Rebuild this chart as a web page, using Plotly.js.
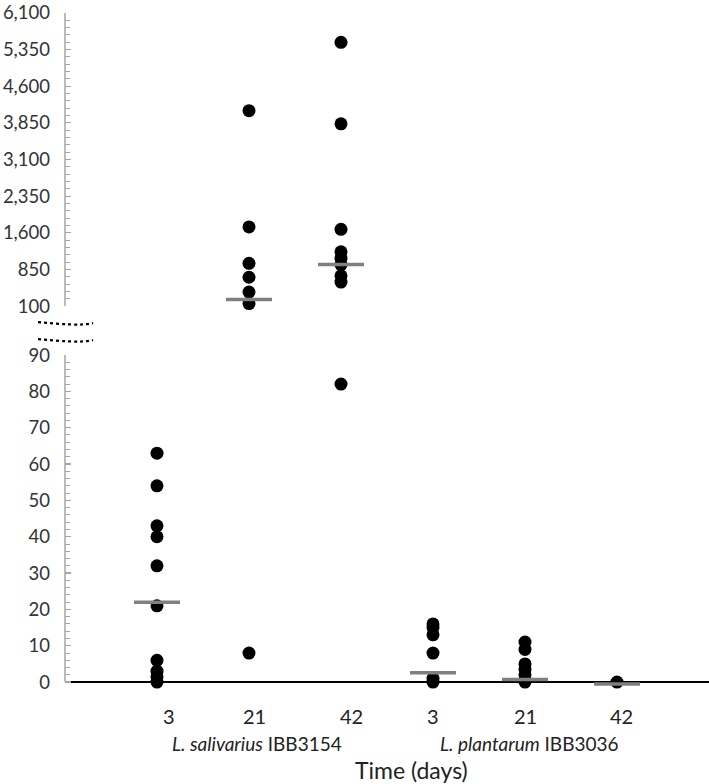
<!DOCTYPE html>
<html>
<head>
<meta charset="utf-8">
<script src="https://cdn.plot.ly/plotly-3.0.1.min.js"></script>
<style>html,body{margin:0;padding:0;background:#fff;}#chart{width:709px;height:784px;}</style>
</head>
<body>
<div id="chart"></div>
<script>
// ---- data ----
const dayLabels = ['3', '21', '42', '3', '21', '42'];
const strainNames = ['L. salivarius', 'L. plantarum'];
const strainCodes = ['IBB3154', 'IBB3036'];
const salivarius3 = [63, 54, 43, 40, 32, 21, 6, 3, 1.5, 0];
const salivarius21 = [4100, 1720, 975, 690, 385, 150, 8];
const salivarius42 = [5500, 3830, 1670, 1210, 1080, 950, 720, 590, 82];
const plantarum3 = [16, 15, 13, 8, 1, 0];
const plantarum21 = [11, 9, 5, 3.5, 2, 0.5, 0];
const plantarum42 = [0];
const medians = [22, 236, 950, 2.6, 0.7, -0.5];
const lowerTicks = [0, 10, 20, 30, 40, 50, 60, 70, 80, 90];
const upperTicks = [100, 850, 1600, 2350, 3100, 3850, 4600, 5350, 6100];
const breakValue = 95;

// ---- layout geometry ----
const W = 709, H = 784;
const zeroPx = 682;                 // pixel row of value 0
const lowPad = 1.9;                 // extra value room below 0
const lowScale = (zeroPx - 355) / 90;
const bottomPx = zeroPx + lowPad * lowScale;
const M = {l: 65, r: 0, t: 13, b: H - bottomPx};
const plotH = H - M.t - M.b, plotW = W - M.l - M.r;
const lowerDomain = [0, (bottomPx - 355) / plotH];
const upperDomain = [(bottomPx - 306) / plotH, 1];
const pxX = x => (x - M.l) / plotW;
const pxY = y => (bottomPx - y) / plotH;

const groups = [salivarius3, salivarius21, salivarius42, plantarum3, plantarum21, plantarum42];
const lowX = [], lowY = [], upX = [], upY = [];
groups.forEach((vals, i) => {
  vals.forEach(v => {
    if (v < breakValue) { lowX.push(i + 1); lowY.push(v); }
    else { upX.push(i + 1); upY.push(v); }
  });
});
const medLowX = [], medLowY = [], medUpX = [], medUpY = [];
const half = 0.25;
medians.forEach((m, i) => {
  const xs = [i + 1 - half, i + 1 + half, null];
  const ys = [m, m, null];
  if (m < breakValue) { medLowX.push(...xs); medLowY.push(...ys); }
  else { medUpX.push(...xs); medUpY.push(...ys); }
});

const dot = {color: '#000', size: 13};
const medLine = {color: '#808080', width: 3.5};
const traces = [
  {x: lowX, y: lowY, xaxis: 'x', yaxis: 'y', mode: 'markers', marker: dot, hoverinfo: 'y', cliponaxis: false},
  {x: upX, y: upY, xaxis: 'x', yaxis: 'y2', mode: 'markers', marker: dot, hoverinfo: 'y', cliponaxis: false},
  {x: medLowX, y: medLowY, xaxis: 'x', yaxis: 'y', mode: 'lines', line: medLine, hoverinfo: 'skip', cliponaxis: false},
  {x: medUpX, y: medUpY, xaxis: 'x', yaxis: 'y2', mode: 'lines', line: medLine, hoverinfo: 'skip', cliponaxis: false}
];

const fontFam = 'Lato, "Open Sans", sans-serif';
const tickFont = {family: fontFam, size: 18.5, color: '#333'};
const axisGray = '#a6a6a6';
const yCommon = {
  showgrid: false, showline: false,
  ticks: 'inside', ticklen: 6, tickwidth: 1.2, tickcolor: axisGray,
  tickfont: tickFont, ticklabelstandoff: 14, ticklabeloverflow: 'allow', anchor: 'x', fixedrange: true
};

const labelShift = [12, 5, 10, 0, 0, 4];
const annotations = dayLabels.map((t, i) => ({
  x: i + 1, xref: 'x', y: pxY(716), yref: 'paper', text: t, showarrow: false,
  xshift: labelShift[i], font: {family: fontFam, size: 20, color: '#222'}, xanchor: 'center', yanchor: 'middle'
}));
strainNames.forEach((s, k) => {
  annotations.push({
    x: 3 * k + 2, xref: 'x', y: pxY(743), yref: 'paper',
    text: '<i>' + s + '</i> ' + strainCodes[k], showarrow: false, xshift: k === 0 ? 8 : 4,
    font: {family: fontFam, size: 19, color: '#222'}, xanchor: 'center', yanchor: 'middle'
  });
});
annotations.push({
  x: pxX(411), xref: 'paper', y: pxY(770), yref: 'paper', text: 'Time (days)', showarrow: false,
  font: {family: fontFam, size: 23, color: '#222'}, xanchor: 'center', yanchor: 'middle'
});

function wave(y0) {
  const p = [[38, y0], [60, y0 + 2], [82, y0 + 4], [93, y0 + 1]];
  return 'M' + pxX(p[0][0]) + ',' + pxY(p[0][1]) +
    ' C' + pxX(p[1][0]) + ',' + pxY(p[1][1]) + ' ' + pxX(p[2][0]) + ',' + pxY(p[2][1]) +
    ' ' + pxX(p[3][0]) + ',' + pxY(p[3][1]);
}
const shapes = [322, 339].map(y0 => ({
  type: 'path', xref: 'paper', yref: 'paper', path: wave(y0),
  line: {color: '#000', width: 2.2, dash: 'dot'}
}));
// y-axis lines (lower and upper segments)
shapes.push({type: 'line', xref: 'paper', x0: 0, x1: 0, yref: 'y', y0: 0, y1: lowerTicks[lowerTicks.length - 1],
             line: {color: axisGray, width: 1.5}, layer: 'below'});
shapes.push({type: 'line', xref: 'paper', x0: 0, x1: 0, yref: 'y2', y0: upperTicks[0], y1: upperTicks[upperTicks.length - 1],
             line: {color: axisGray, width: 1.5}, layer: 'below'});

const layout = {
  width: W, height: H, margin: M, showlegend: false,
  paper_bgcolor: '#fff', plot_bgcolor: '#fff',
  font: {family: fontFam},
  xaxis: {range: [0, 7], showgrid: false, zeroline: false, showline: false,
          showticklabels: false, ticks: '', anchor: 'y', fixedrange: true},
  yaxis: Object.assign({}, yCommon, {domain: lowerDomain, range: [-lowPad, 90], tickvals: lowerTicks,
          zeroline: true, zerolinecolor: '#000', zerolinewidth: 1.5,
          minor: {dtick: 2, tick0: 0, ticks: 'inside', ticklen: 5, tickcolor: axisGray, tickwidth: 1}}),
  yaxis2: Object.assign({}, yCommon, {domain: upperDomain, range: [100, 6100], tickvals: upperTicks, tickformat: ',',
          zeroline: false,
          minor: {dtick: 150, tick0: 100, ticks: 'inside', ticklen: 5, tickcolor: axisGray, tickwidth: 1}}),
  annotations: annotations,
  shapes: shapes
};
Plotly.newPlot('chart', traces, layout, {displayModeBar: false, staticPlot: true});
</script>
</body>
</html>
